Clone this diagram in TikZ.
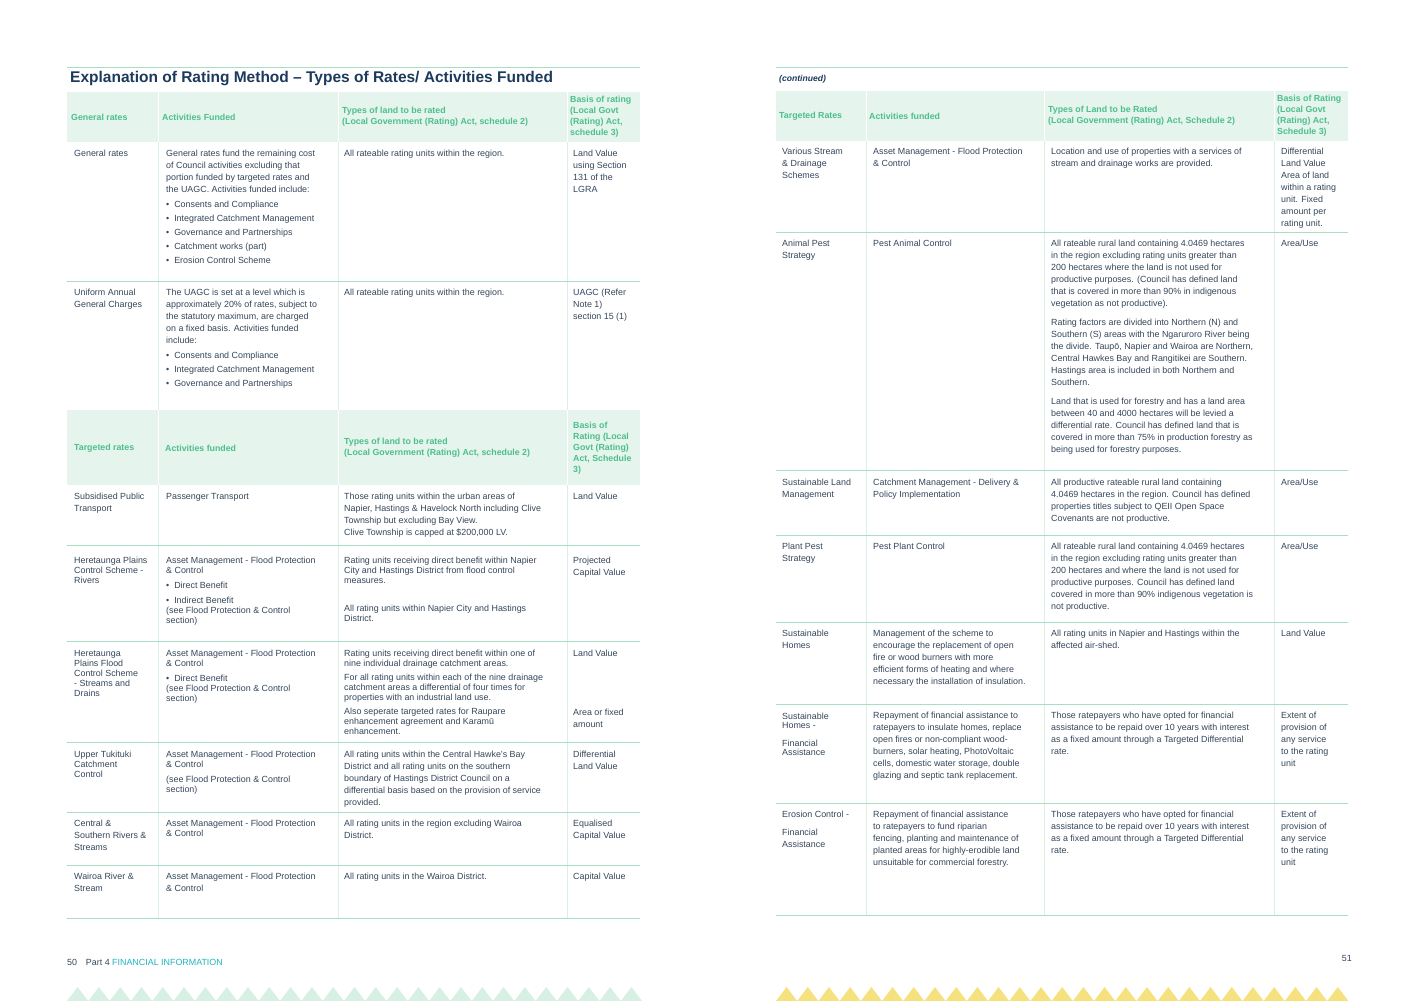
\documentclass[tikz,border=0pt]{standalone}
\usepackage{fontspec}
\setmainfont{Liberation Sans}
\definecolor{txt}{HTML}{34465A}
\definecolor{hdr}{HTML}{4DBF8C}
\definecolor{hfill}{HTML}{E5F4EC}
\definecolor{rule}{HTML}{A9DEC6}
\definecolor{ttl}{HTML}{1C3A5C}
\definecolor{teal}{HTML}{1FB5C0}
\definecolor{trig}{HTML}{D8EFE3}
\definecolor{ytrig}{HTML}{F5E27E}
\begin{document}
\begin{tikzpicture}[x=1pt,y=-1pt,
  cell/.style={anchor=north west,inner sep=0pt,yshift=-2pt,align=left,text=txt,font=\fontsize{8.9}{12}\selectfont},
  hd/.style={anchor=west,inner sep=0pt,align=left,text=hdr,font=\bfseries\fontsize{8.8}{11}\selectfont},
  rl/.style={draw=rule,line width=0.8pt},
  vl/.style={draw=rule!45,line width=0.5pt}]
\useasboundingbox (0,0) rectangle (1416,1001);
% ---------- LEFT PAGE ----------
\draw[rl] (67,67) -- (640,67);
\node[anchor=west,inner sep=0pt,text=ttl,font=\bfseries\fontsize{15.5}{17}\selectfont] (title) at (70,79) {Explanation of Rating Method – Types of Rates/ Activities Funded};
\fill[hfill] (67,92) rectangle (640,142);
\fill[hfill] (67,410) rectangle (640,485);
\foreach \x in {158,338,567}{\draw[white,line width=1pt] (\x,92)--(\x,142); \draw[white,line width=1pt] (\x,410)--(\x,485);}
\foreach \x in {158,338,567}{\draw[vl] (\x,142)--(\x,410); \draw[vl] (\x,485)--(\x,918);}
\foreach \y in {281,545,641,742,812,865}{\draw[rl] (67,\y)--(640,\y);}
\draw[rl] (67,918)--(640,918);
\node[hd] (h1) at (71,117) {General rates};
\node[hd] (h2) at (162,117) {Activities Funded};
\node[hd] (h3) at (342,117) {Types of land to be rated\\(Local Government (Rating) Act, schedule 2)};
\node[hd] (h4) at (570,117) {Basis of rating\\(Local Govt\\(Rating) Act,\\schedule 3)};
\node[cell] (a1) at (74,148) {General rates};
\node[cell] (a2) at (166,148) {General rates fund the remaining cost\\of Council activities excluding that\\portion funded by targeted rates and\\the UAGC. Activities funded include:\\[3pt]
\textbullet\ \ Consents and Compliance\\[2pt]\textbullet\ \ Integrated Catchment Management\\[2pt]\textbullet\ \ Governance and Partnerships\\[2pt]\textbullet\ \ Catchment works (part)\\[2pt]\textbullet\ \ Erosion Control Scheme};
\node[cell] (a3) at (344,148) {All rateable rating units within the region.};
\node[cell] (a4) at (573,148) {Land Value\\using Section\\131 of the\\LGRA};
\node[cell] (b1) at (74,287) {Uniform Annual\\General Charges};
\node[cell] (b2) at (166,287) {The UAGC is set at a level which is\\approximately 20\% of rates, subject to\\the statutory maximum, are charged\\on a fixed basis.  Activities funded\\include:\\[3pt]
\textbullet\ \ Consents and Compliance\\[2pt]\textbullet\ \ Integrated Catchment Management\\[2pt]\textbullet\ \ Governance and Partnerships};
\node[cell] (b3) at (344,287) {All rateable rating units within the region.};
\node[cell] (b4) at (573,287) {UAGC (Refer\\Note 1)\\section 15 (1)};
\node[hd] (g1) at (74,448) {Targeted rates};
\node[hd] (g2) at (165,448) {Activities funded};
\node[hd] (g3) at (344,448) {Types of land to be rated\\(Local Government (Rating) Act, schedule 2)};
\node[hd] (g4) at (573,448) {Basis of\\Rating (Local\\Govt (Rating)\\Act, Schedule\\3)};
\node[cell] (c1) at (74,491) {Subsidised Public\\Transport};
\node[cell] (c2) at (166,491) {Passenger Transport};
\node[cell] (c3) at (344,491) {Those rating units within the urban areas of\\Napier, Hastings \& Havelock North including Clive\\Township but excluding Bay View.\\Clive Township is capped at \$200,000 LV.};
\node[cell] (c4) at (573,491) {Land Value};
\node[cell,font=\fontsize{8.9}{10}\selectfont] (d1) at (74,555) {Heretaunga Plains\\Control Scheme -\\Rivers};
\node[cell,font=\fontsize{8.9}{10}\selectfont] (d2) at (166,555) {Asset Management - Flood Protection\\\& Control\\[5pt]\textbullet\ \ Direct Benefit\\[5pt]\textbullet\ \ Indirect Benefit\\(see Flood Protection \& Control\\section)};
\node[cell,font=\fontsize{8.9}{10}\selectfont] (d3) at (344,555) {Rating units receiving direct benefit within Napier\\City and Hastings District from flood control\\measures.\\[18pt]All rating units within Napier City and Hastings\\District.};
\node[cell] (d4) at (573,555) {Projected\\Capital Value};
\node[cell,font=\fontsize{8.9}{10}\selectfont] (e1) at (74,648) {Heretaunga\\Plains Flood\\Control Scheme\\- Streams and\\Drains};
\node[cell,font=\fontsize{8.9}{10}\selectfont] (e2) at (166,648) {Asset Management - Flood Protection\\\& Control\\[5pt]\textbullet\ \ Direct Benefit\\(see Flood Protection \& Control\\section)};
\node[cell,font=\fontsize{8.9}{10}\selectfont] (e3) at (344,648) {Rating units receiving direct benefit within one of\\nine individual drainage catchment areas.\\[4pt]For all rating units within each of the nine drainage\\catchment areas a differential of four times for\\properties with an industrial land use.\\[4pt]Also seperate targeted rates for Raupare\\enhancement agreement and Karamū\\enhancement.};
\node[cell] (e4) at (573,648) {Land Value};
\node[cell] (e5) at (573,707) {Area or fixed\\amount};
\node[cell,font=\fontsize{8.9}{10}\selectfont] (f1) at (74,749) {Upper Tukituki\\Catchment\\Control};
\node[cell,font=\fontsize{8.9}{10}\selectfont] (f2) at (166,749) {Asset Management - Flood Protection\\\& Control\\[5pt](see Flood Protection \& Control\\section)};
\node[cell] (f3) at (344,749) {All rating units within the Central Hawke's Bay\\District and all rating units on the southern\\boundary of Hastings District Council on a\\differential basis based on the provision of service\\provided.};
\node[cell] (f4) at (573,749) {Differential\\Land Value};
\node[cell] (k1) at (74,818) {Central \&\\Southern Rivers \&\\Streams};
\node[cell,font=\fontsize{8.9}{10}\selectfont] (k2) at (166,818) {Asset Management - Flood Protection\\\& Control};
\node[cell] (k3) at (344,818) {All rating units in the region excluding Wairoa\\District.};
\node[cell] (k4) at (573,818) {Equalised\\Capital Value};
\node[cell] (m1) at (74,871) {Wairoa River \&\\Stream};
\node[cell] (m2) at (166,871) {Asset Management - Flood Protection\\\& Control};
\node[cell] (m3) at (344,871) {All rating units in the Wairoa District.};
\node[cell] (m4) at (573,871) {Capital Value};
\node[anchor=west,inner sep=0pt,text=txt,font=\fontsize{8.9}{10}\selectfont] (pg50) at (67,962) {50\quad Part 4 \textcolor{teal}{FINANCIAL INFORMATION}};
\foreach \i in {0,...,26}{\fill[trig] ({67+\i*21.3},1001) -- ({77.6+\i*21.3},987) -- ({88.3+\i*21.3},1001) -- cycle;}
% ---------- RIGHT PAGE ----------
\draw[rl] (776,67) -- (1348,67);
\node[anchor=west,inner sep=0pt,text=ttl,font=\bfseries\itshape\fontsize{8.6}{10}\selectfont] (cont) at (779,79) {(continued)};
\fill[hfill] (776,91) rectangle (1348,141);
\foreach \x in {866,1044,1274}{\draw[white,line width=1pt] (\x,91)--(\x,141); \draw[vl] (\x,141)--(\x,915);}
\foreach \y in {232,470,535,622,704,803}{\draw[rl] (776,\y)--(1348,\y);}
\draw[rl] (776,915)--(1348,915);
\node[hd] (r1) at (779,116) {Targeted Rates};
\node[hd] (r2) at (869,116) {Activities funded};
\node[hd] (r3) at (1048,116) {Types of Land to be Rated\\(Local Government (Rating) Act, Schedule 2)};
\node[hd] (r4) at (1277,116) {Basis of Rating\\(Local Govt\\(Rating) Act,\\Schedule 3)};
\node[cell] (s1) at (782,146) {Various Stream\\\& Drainage\\Schemes};
\node[cell] (s2) at (873,146) {Asset Management - Flood Protection\\\& Control};
\node[cell] (s3) at (1051,146) {Location and use of properties with a services of\\stream and drainage works are provided.};
\node[cell] (s4) at (1281,146) {Differential\\Land Value\\Area of land\\within a rating\\unit.  Fixed\\amount per\\rating unit.};
\node[cell] (t1) at (782,238) {Animal Pest\\Strategy};
\node[cell] (t2) at (873,238) {Pest Animal Control};
\node[cell] (t3) at (1051,238) {All rateable rural land containing 4.0469 hectares\\in the region excluding rating units greater than\\200 hectares where the land is not used for\\productive purposes. (Council has defined land\\that is covered in more than 90\% in indigenous\\vegetation as not productive).\\[7pt]Rating factors are divided into Northern (N) and\\Southern (S) areas with the Ngaruroro River being\\the divide. Taupō, Napier and Wairoa are Northern,\\Central Hawkes Bay and Rangitikei are Southern.\\Hastings area is included in both Northern and\\Southern.\\[7pt]Land that is used for forestry and has a land area\\between 40 and 4000 hectares will be levied a\\differential rate. Council has defined land that is\\covered in more than 75\% in production forestry as\\being used for forestry purposes.};
\node[cell] (t4) at (1281,238) {Area/Use};
\node[cell] (u1) at (782,477) {Sustainable Land\\Management};
\node[cell] (u2) at (873,477) {Catchment Management - Delivery \&\\Policy Implementation};
\node[cell] (u3) at (1051,477) {All productive rateable rural land containing\\4.0469 hectares in the region. Council has defined\\properties titles subject to QEII Open Space\\Covenants are not productive.};
\node[cell] (u4) at (1281,477) {Area/Use};
\node[cell] (v1) at (782,541) {Plant Pest\\Strategy};
\node[cell] (v2) at (873,541) {Pest Plant Control};
\node[cell] (v3) at (1051,541) {All rateable rural land containing 4.0469 hectares\\in the region excluding rating units greater than\\200 hectares and where the land is not used for\\productive purposes. Council has defined land\\covered in more than 90\% indigenous vegetation is\\not productive.};
\node[cell] (v4) at (1281,541) {Area/Use};
\node[cell] (w1) at (782,628) {Sustainable\\Homes};
\node[cell] (w2) at (873,628) {Management of the scheme to\\encourage the replacement of open\\fire or wood burners with more\\efficient forms of heating and where\\necessary the installation of insulation.};
\node[cell] (w3) at (1051,628) {All rating units in Napier and Hastings within the\\affected air-shed.};
\node[cell] (w4) at (1281,628) {Land Value};
\node[cell,font=\fontsize{8.9}{9}\selectfont] (x1) at (782,711) {Sustainable\\Homes -\\[9pt]Financial\\Assistance};
\node[cell] (x2) at (873,710) {Repayment of financial assistance to\\ratepayers to insulate homes, replace\\open fires or non-compliant wood-\\burners, solar heating, PhotoVoltaic\\cells, domestic water storage, double\\glazing and septic tank replacement.};
\node[cell] (x3) at (1051,710) {Those ratepayers who have opted for financial\\assistance to be repaid over 10 years with interest\\as a fixed amount through a Targeted Differential\\rate.};
\node[cell] (x4) at (1281,710) {Extent of\\provision of\\any service\\to the rating\\unit};
\node[cell] (y1) at (782,809) {Erosion Control  -\\[6pt]Financial\\Assistance};
\node[cell] (y2) at (873,809) {Repayment of financial assistance\\to ratepayers to fund riparian\\fencing, planting and maintenance of\\planted areas for highly-erodible land\\unsuitable for commercial forestry.};
\node[cell] (y3) at (1051,809) {Those ratepayers who have opted for financial\\assistance to be repaid over 10 years with interest\\as a fixed amount through a Targeted Differential\\rate.};
\node[cell] (y4) at (1281,809) {Extent of\\provision of\\any service\\to the rating\\unit};
\node[anchor=east,inner sep=0pt,text=txt,font=\fontsize{8.9}{10}\selectfont] (pg51) at (1352,958) {51};
\foreach \i in {0,...,26}{\fill[ytrig] ({776+\i*21.2},1001) -- ({786.6+\i*21.2},987) -- ({797.2+\i*21.2},1001) -- cycle;}
\end{tikzpicture}
\end{document}
